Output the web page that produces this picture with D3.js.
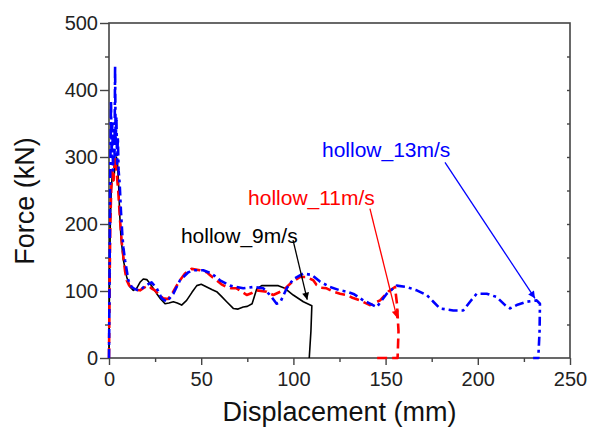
<!DOCTYPE html>
<html><head><meta charset="utf-8">
<script src="https://cdn.jsdelivr.net/npm/d3@7"></script>
<style>body{margin:0;background:#fff}svg{display:block}text{font-family:"Liberation Sans",Arial,sans-serif}</style>
</head><body><svg id="c" width="596" height="430"></svg>
<script>
// Data (Displacement mm, Force kN)
const disp9  = [0,0.3,0.7,1.2,1.8,2.5,3.2,4.0,4.6,5.2,5.8,6.5,7.8,9.6,11.4,13.2,15,16.8,18.6,20.5,22.5,25.9,28,30.4,32.5,34.9,37,39.4,42.1,45,47.6,50,53,56,58.4,61,63.8,67.4,70,72.8,75,77.6,80.1,82.8,87.3,91.8,95.4,99.9,105.4,110,109.5,108.6];
const force9 = [0,120,200,250,275,265,285,300,290,260,215,180,146,121,106,101,104,113,118,117,110,96,88,81,82,84,82,79,86,98,108,110,106,102,99,92,84,74,73,76,77,81,103,108,108,108,104,94,84,78,40,0];
const disp11  = [0,0.3,0.7,1.2,1.8,2.4,3.0,3.5,4.2,5,6,7,7.8,8.7,9.6,11,12.3,14,16.8,19,21.3,23,24.9,27,29.4,32,34,36.7,39,41.2,44.8,49.3,53,55.5,58.4,61,63.8,66.5,69.2,72,74.7,77.5,80.1,85.5,89.1,94.5,99.1,103.6,107,110.8,112.6,115,118,121.6,125.3,128.9,132,136,141.5,144,147,151.5,155.1,156.2,157,156.5,150,145];
const force11 = [0,100,200,250,280,265,290,300,275,250,205,170,151,130,116,108,106,102,101,105,108,104,101,95,89,88,95,108,118,126,133,131,128,122,116,110,106,104,104,99,94,97,101,99,94,101,113,121,121,116,109,105,104,99,96,94,90,86,79,82,86,99,106,80,40,0,0,0];
const disp13  = [0,0.3,0.6,0.9,1.1,1.4,1.8,2.2,2.6,3.0,3.3,3.6,4.0,4.4,4.8,5.2,5.8,6.5,7.2,7.8,8.7,9.6,10.5,12.3,14,15.9,18,20,23.1,25.9,28.6,31.3,34.9,38.5,43,46.6,51.1,55.7,60.2,65.6,72.8,78.3,83.7,87.3,90.9,93,96.4,100,105.4,110,114.4,119.8,125.3,128.9,133,137.9,141,145.2,150.6,156,161.4,166.9,172.3,175.9,179.5,186.7,192.1,195.8,199.4,204.8,210.2,214.8,217.5,221.1,226.5,231.9,233.7,233.5,232.8,230];
const force13 = [0,120,250,330,384,300,350,280,340,300,436,320,360,290,330,280,260,218,185,165,146,131,116,106,103,101,104,108,113,104,89,84,96,116,128,131,131,126,116,108,104,106,104,94,81,84,104,118,126,124,114,106,101,99,95,86,82,76,96,108,106,101,94,84,74,71,71,84,96,96,91,79,74,79,84,86,81,40,0,0];

const xTicks = [0,50,100,150,200,250];
const yTicks = [0,100,200,300,400,500];
const labels = ["hollow_9m/s","hollow_11m/s","hollow_13m/s"];
// annotation anchors in data units: text start, arrow start, arrow end
const labelPos  = [[39,171],[75.4,229],[115.5,300]];
const arrowFrom = [[99.8,176],[141.5,223],[182.2,292]];
const arrowTo   = [[107.5,87],[156.2,60],[231,89]];

const colors = ["#000000","#ff0000","#0000ff"];
const series = [
  {x:disp9, y:force9, dash:null, w:1.6},
  {x:disp11,y:force11,dash:"10,5", w:2.6},
  {x:disp13,y:force13,dash:"9,4,3,4", w:2.6}
];

const svg = d3.select("#c");
const x = d3.scaleLinear().domain([0,250]).range([109,570]);
const y = d3.scaleLinear().domain([0,500]).range([358,23]);
const axisCol = "#444";
const font = "'Liberation Sans',Arial,sans-serif";

// frame
svg.append("rect").attr("x",x(0)).attr("y",y(500)).attr("width",x(250)-x(0)).attr("height",y(0)-y(500))
  .attr("fill","none").attr("stroke",axisCol).attr("stroke-width",1.6);

// x axis
const gx = svg.append("g").attr("transform",`translate(0,${y(0)})`)
  .call(d3.axisBottom(x).tickValues(xTicks).tickSize(7).tickPadding(7).tickFormat(d3.format("d")));
const gxm = svg.append("g").attr("transform",`translate(0,${y(0)})`)
  .call(d3.axisBottom(x).tickValues(d3.range(25,250,50)).tickSize(4).tickFormat(""));
// y axis
const gy = svg.append("g").attr("transform",`translate(${x(0)},0)`)
  .call(d3.axisLeft(y).tickValues(yTicks).tickSize(9).tickPadding(2).tickFormat(d3.format("d")));
const gym = svg.append("g").attr("transform",`translate(${x(0)},0)`)
  .call(d3.axisLeft(y).tickValues(d3.range(50,500,100)).tickSize(4).tickFormat(""));
// right minor ticks
const gyr = svg.append("g").attr("transform",`translate(${x(250)},0)`)
  .call(d3.axisLeft(y).tickValues(d3.range(50,500,50)).tickSize(3).tickFormat(""));
[gx,gxm,gy,gym,gyr].forEach(g=>{
  g.select(".domain").remove();
  g.selectAll("line").attr("stroke",axisCol).attr("stroke-width",1.4);
  g.selectAll("text").attr("fill","#222").style("font-size","20px").style("font-family",font);
});

// axis titles
svg.append("text").attr("x",(x(0)+x(250))/2).attr("y",421).attr("text-anchor","middle")
  .style("font-size","27px").attr("fill","#111").text("Displacement (mm)");
svg.append("text").attr("transform",`translate(34,201) rotate(-90)`).attr("text-anchor","middle")
  .style("font-size","27px").attr("fill","#111").text("Force (kN)");

// curves
const line = d3.line();
series.forEach((s,i)=>{
  const pts = s.x.map((d,j)=>[x(d),y(s.y[j])]);
  const p = svg.append("path").attr("d",line(pts)).attr("fill","none")
    .attr("stroke",colors[i]).attr("stroke-width",s.w).attr("stroke-linejoin","round");
  if(s.dash) p.attr("stroke-dasharray",s.dash);
});

// arrowheads
const defs = svg.append("defs");
colors.forEach((c,i)=>{
  defs.append("marker").attr("id","ah"+i).attr("viewBox","0 0 10 10").attr("refX",10).attr("refY",5)
    .attr("markerWidth",9).attr("markerHeight",7).attr("markerUnits","userSpaceOnUse").attr("orient","auto")
    .append("path").attr("d","M0,0L10,5L0,10Z").attr("fill",c);
});
// annotations
labels.forEach((t,i)=>{
  svg.append("text").attr("x",x(labelPos[i][0])).attr("y",y(labelPos[i][1]))
    .style("font-size","21px").attr("fill",colors[i]).text(t);
  svg.append("line").attr("x1",x(arrowFrom[i][0])).attr("y1",y(arrowFrom[i][1]))
    .attr("x2",x(arrowTo[i][0])).attr("y2",y(arrowTo[i][1]))
    .attr("stroke",colors[i]).attr("stroke-width",1.3).attr("marker-end",`url(#ah${i})`);
});
</script></body></html>
